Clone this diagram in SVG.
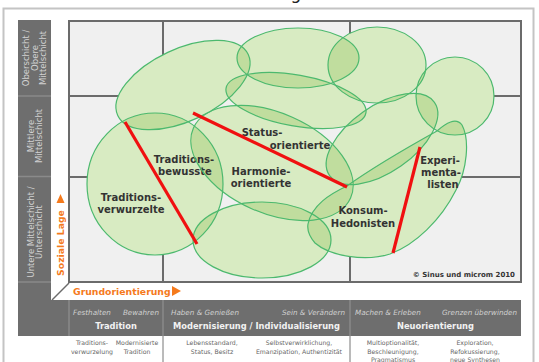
<svg xmlns="http://www.w3.org/2000/svg" width="539" height="362" viewBox="0 0 539 362">
<style>
.fillb{fill:#d8ebc2}
.ovl{fill:#c0dd9e}
.edge{fill:none;stroke:#4cb96e;stroke-width:1.2}
.lbl{font-family:"DejaVu Sans",Verdana,sans-serif;font-weight:bold;font-size:10px;fill:#333;text-anchor:middle}
.side{font-family:"DejaVu Sans",Verdana,sans-serif;font-size:8.5px;fill:#d2d2d2;text-anchor:middle}
.ax{font-family:"DejaVu Sans",Verdana,sans-serif;font-weight:bold;font-size:9.3px;fill:#f57a1c}
.it{font-family:"DejaVu Sans",Verdana,sans-serif;font-style:italic;font-size:7.2px;fill:#d0d0d0}
.hd{font-family:"DejaVu Sans",Verdana,sans-serif;font-weight:bold;font-size:8.3px;fill:#f2f2f2;text-anchor:middle}
.sm{font-family:"DejaVu Sans",Verdana,sans-serif;font-size:6.2px;fill:#666;text-anchor:middle}
.red{stroke:#f01010;stroke-width:3.2;stroke-linecap:butt}
.gl{stroke:#6b6b6b;stroke-width:2;fill:none}
.sep{stroke:#8a8a8a;stroke-width:1.5}
</style>
<defs>
<ellipse id="e1" cx="183" cy="85" rx="72" ry="36" transform="rotate(-25 183 85)"/>
<ellipse id="e2" cx="298" cy="58" rx="61" ry="30"/>
<ellipse id="e3" cx="377" cy="65" rx="49" ry="38"/>
<ellipse id="e4" cx="455" cy="96" rx="39" ry="39"/>
<ellipse id="e5" cx="296" cy="100.5" rx="71" ry="25.5" transform="rotate(10 296 100.5)"/>
<ellipse id="e6" cx="272" cy="163" rx="86" ry="50" transform="rotate(24 272 163)"/>
<ellipse id="e7" cx="382" cy="139" rx="64" ry="33" transform="rotate(-35 382 139)"/>
<ellipse id="e8" cx="155" cy="184" rx="68" ry="71"/>
<ellipse id="e9" cx="262" cy="240" rx="69" ry="38"/>
<path id="e10" d="M308,224 C312,205 330,194 347,186 C375,166 410,146 437,131 C446,123 456,117 462,125 C470,140 467,170 456,190 C441,220 415,245 390,254 C365,262 330,256 315,243 C309,236 307,230 308,224 Z"/>
<clipPath id="c1"><use href="#e2"/><use href="#e3"/><use href="#e4"/><use href="#e5"/><use href="#e6"/><use href="#e7"/><use href="#e8"/><use href="#e9"/><use href="#e10"/></clipPath>
<clipPath id="c2"><use href="#e1"/><use href="#e3"/><use href="#e4"/><use href="#e5"/><use href="#e6"/><use href="#e7"/><use href="#e8"/><use href="#e9"/><use href="#e10"/></clipPath>
<clipPath id="c3"><use href="#e1"/><use href="#e2"/><use href="#e4"/><use href="#e5"/><use href="#e6"/><use href="#e7"/><use href="#e8"/><use href="#e9"/><use href="#e10"/></clipPath>
<clipPath id="c4"><use href="#e1"/><use href="#e2"/><use href="#e3"/><use href="#e5"/><use href="#e6"/><use href="#e7"/><use href="#e8"/><use href="#e9"/><use href="#e10"/></clipPath>
<clipPath id="c5"><use href="#e1"/><use href="#e2"/><use href="#e3"/><use href="#e4"/><use href="#e6"/><use href="#e7"/><use href="#e8"/><use href="#e9"/><use href="#e10"/></clipPath>
<clipPath id="c6"><use href="#e1"/><use href="#e2"/><use href="#e3"/><use href="#e4"/><use href="#e5"/><use href="#e7"/><use href="#e8"/><use href="#e9"/><use href="#e10"/></clipPath>
<clipPath id="c7"><use href="#e1"/><use href="#e2"/><use href="#e3"/><use href="#e4"/><use href="#e5"/><use href="#e6"/><use href="#e8"/><use href="#e9"/><use href="#e10"/></clipPath>
<clipPath id="c8"><use href="#e1"/><use href="#e2"/><use href="#e3"/><use href="#e4"/><use href="#e5"/><use href="#e6"/><use href="#e7"/><use href="#e9"/><use href="#e10"/></clipPath>
<clipPath id="c9"><use href="#e1"/><use href="#e2"/><use href="#e3"/><use href="#e4"/><use href="#e5"/><use href="#e6"/><use href="#e7"/><use href="#e8"/><use href="#e10"/></clipPath>
<clipPath id="c10"><use href="#e1"/><use href="#e2"/><use href="#e3"/><use href="#e4"/><use href="#e5"/><use href="#e6"/><use href="#e7"/><use href="#e8"/><use href="#e9"/></clipPath>
</defs>
<rect x="0" y="0" width="539" height="362" fill="#fff"/>
<text x="296" y="-1" font-family="DejaVu Sans,sans-serif" font-size="17" text-anchor="middle" fill="#222">g</text>
<rect x="3.5" y="8.5" width="530" height="360" fill="#fff" stroke="#c4c4c4" stroke-width="2"/>
<g id="frame">
<rect x="18" y="20" width="33" height="316" fill="#6e6e6e"/>
<rect x="18" y="300" width="503" height="36" fill="#6e6e6e"/>
<line class="sep" x1="18" y1="96" x2="51" y2="96"/>
<line class="sep" x1="18" y1="176.5" x2="51" y2="176.5"/>
<line class="sep" x1="18" y1="282" x2="51" y2="282"/>
<line class="sep" x1="69" y1="300" x2="69" y2="336"/>
<line class="sep" x1="163" y1="300" x2="163" y2="336"/>
<line class="sep" x1="350" y1="300" x2="350" y2="336"/>
<line x1="163" y1="336" x2="163" y2="362" stroke="#777" stroke-width="1"/>
<line x1="350" y1="336" x2="350" y2="362" stroke="#777" stroke-width="1"/>
<line x1="52" y1="300" x2="69" y2="283" stroke="#6b6b6b" stroke-width="1.5"/>
<rect x="69" y="21" width="452" height="261" fill="#f0f0f0"/>
<line class="gl" x1="69" y1="96" x2="521" y2="96"/>
<line class="gl" x1="69" y1="177" x2="521" y2="177"/>
<line class="gl" x1="163" y1="21" x2="163" y2="282"/>
<line class="gl" x1="350" y1="21" x2="350" y2="282"/>
<rect class="gl" x="69" y="21" width="452" height="261"/>
<text class="side" transform="translate(29,58) rotate(-90)"><tspan x="0" y="0">Oberschicht /</tspan><tspan x="0" y="8.5">Obere</tspan><tspan x="0" y="17">Mittelschicht</tspan></text>
<text class="side" transform="translate(33.5,136) rotate(-90)"><tspan x="0" y="0">Mittlere</tspan><tspan x="0" y="8.5">Mittelschicht</tspan></text>
<text class="side" transform="translate(33.5,232) rotate(-90)"><tspan x="0" y="0">Untere Mittelschicht /</tspan><tspan x="0" y="8.5">Unterschicht</tspan></text>
<text class="ax" transform="translate(64,243) rotate(-90)" text-anchor="middle">Soziale Lage</text>
<polygon points="56.5,203 60.5,194 64.5,203" fill="#f57a1c"/>
<text class="ax" x="73" y="295">Grundorientierung</text>
<polygon points="172,286 181,291 172,296" fill="#f57a1c"/>
<text class="it" x="73" y="315">Festhalten</text>
<text class="it" x="159" y="315" text-anchor="end">Bewahren</text>
<text class="it" x="171" y="315">Haben &amp; Genießen</text>
<text class="it" x="345" y="315" text-anchor="end">Sein &amp; Verändern</text>
<text class="it" x="355" y="315">Machen &amp; Erleben</text>
<text class="it" x="517" y="315" text-anchor="end">Grenzen überwinden</text>
<text class="hd" x="116" y="329">Tradition</text>
<text class="hd" x="256.5" y="329">Modernisierung / Individualisierung</text>
<text class="hd" x="435.5" y="329">Neuorientierung</text>
<text class="sm"><tspan x="92" y="345">Traditions-</tspan><tspan x="92" dy="8.6">verwurzelung</tspan></text>
<text class="sm"><tspan x="137" y="345">Modernisierte</tspan><tspan x="137" dy="8.6">Tradition</tspan></text>
<text class="sm"><tspan x="212" y="345">Lebensstandard,</tspan><tspan x="212" dy="8.6">Status, Besitz</tspan></text>
<text class="sm"><tspan x="299" y="345">Selbstverwirklichung,</tspan><tspan x="299" dy="8.6">Emanzipation, Authentizität</tspan></text>
<text class="sm"><tspan x="393" y="345">Multioptionalität,</tspan><tspan x="393" dy="8.6">Beschleunigung,</tspan><tspan x="393" dy="8.6">Pragmatismus</tspan></text>
<text class="sm"><tspan x="475" y="345">Exploration,</tspan><tspan x="475" dy="8.6">Refokussierung,</tspan><tspan x="475" dy="8.6">neue Synthesen</tspan></text>
<text x="515" y="277" font-family="DejaVu Sans,Verdana,sans-serif" font-weight="bold" font-size="7" fill="#333" text-anchor="end">© Sinus und microm 2010</text>
</g>
<g id="bubble-fills" class="fillb">
<use href="#e1"/><use href="#e2"/><use href="#e3"/><use href="#e4"/><use href="#e5"/><use href="#e6"/><use href="#e7"/><use href="#e8"/><use href="#e9"/><use href="#e10"/>
</g>
<g id="bubble-overlaps" class="ovl">
<use href="#e1" clip-path="url(#c1)"/><use href="#e2" clip-path="url(#c2)"/><use href="#e3" clip-path="url(#c3)"/><use href="#e4" clip-path="url(#c4)"/><use href="#e5" clip-path="url(#c5)"/><use href="#e6" clip-path="url(#c6)"/><use href="#e7" clip-path="url(#c7)"/><use href="#e8" clip-path="url(#c8)"/><use href="#e9" clip-path="url(#c9)"/><use href="#e10" clip-path="url(#c10)"/>
</g>
<g id="milieu-oben-links"><use class="edge" href="#e1"/></g>
<g id="milieu-oben-mitte"><use class="edge" href="#e2"/></g>
<g id="milieu-oben-rechts"><use class="edge" href="#e3"/></g>
<g id="milieu-rechts"><use class="edge" href="#e4"/></g>
<g id="milieu-mitte-oben"><use class="edge" href="#e5"/></g>
<g id="milieu-mitte-rechts"><use class="edge" href="#e7"/></g>
<g id="milieu-unten-mitte"><use class="edge" href="#e9"/></g>
<g id="milieu-tradition"><use class="edge" href="#e8"/>
<text class="lbl"><tspan x="131" y="201">Traditions-</tspan><tspan x="131" y="213">verwurzelte</tspan></text>
<text class="lbl"><tspan x="184" y="163">Traditions-</tspan><tspan x="185" y="175">bewusste</tspan></text></g>
<g id="milieu-mitte"><use class="edge" href="#e6"/>
<text class="lbl"><tspan x="262" y="136">Status-</tspan><tspan x="300" y="149">orientierte</tspan></text>
<text class="lbl"><tspan x="261" y="175">Harmonie-</tspan><tspan x="261" y="187">orientierte</tspan></text></g>
<g id="milieu-hedonisten"><use class="edge" href="#e10"/>
<text class="lbl"><tspan x="363" y="214">Konsum-</tspan><tspan x="363" y="227">Hedonisten</tspan></text>
<text class="lbl"><tspan x="440" y="164">Experi-</tspan><tspan x="441" y="176">menta-</tspan><tspan x="443" y="188">listen</tspan></text></g>
<g id="dividers">
<line class="red" x1="125" y1="122" x2="197" y2="244"/>
<line class="red" x1="193" y1="113" x2="347" y2="187"/>
<line class="red" x1="420" y1="147" x2="393" y2="253"/>
</g>
</svg>
